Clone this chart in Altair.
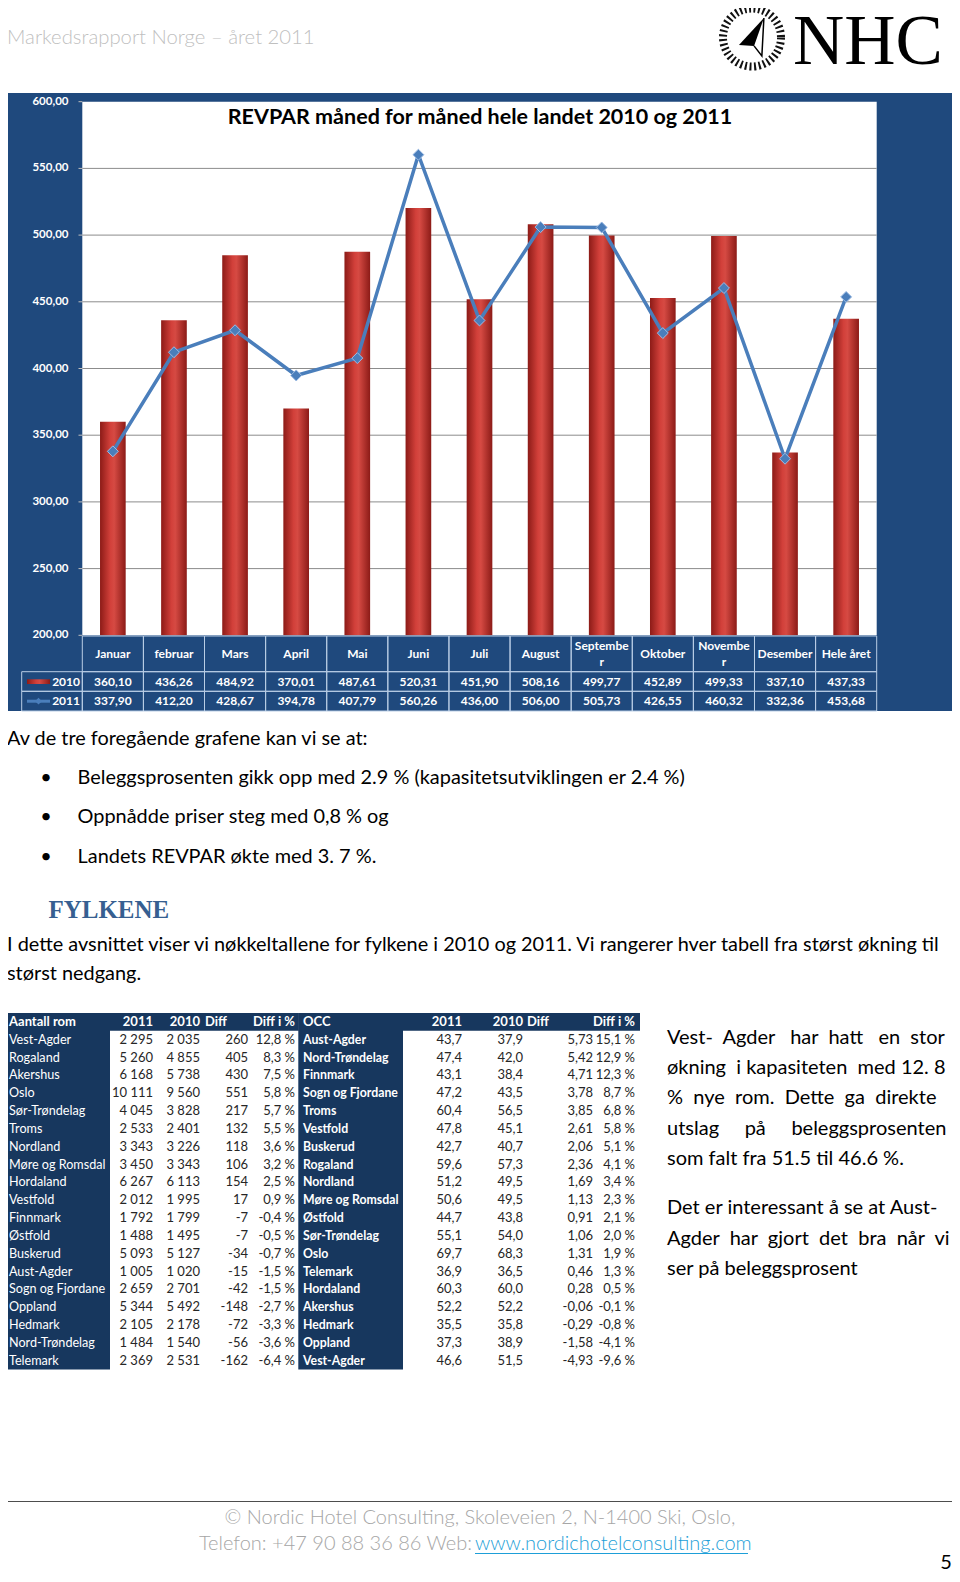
import altair as alt
import pandas as pd

# ---------------- data ----------------
months = ["Januar", "februar", "Mars", "April", "Mai", "Juni", "Juli", "August",
          "September", "Oktober", "November", "Desember", "Hele året"]
month_line1 = ["Januar", "februar", "Mars", "April", "Mai", "Juni", "Juli", "August",
               "Septembe", "Oktober", "Novembe", "Desember", "Hele året"]
month_line2 = ["", "", "", "", "", "", "", "", "r", "", "r", "", ""]
revpar_2010 = [360.10, 436.26, 484.92, 370.01, 487.61, 520.31, 451.90, 508.16,
               499.77, 452.89, 499.33, 337.10, 437.33]
revpar_2011 = [337.90, 412.20, 428.67, 394.78, 407.79, 560.26, 436.00, 506.00,
               505.73, 426.55, 460.32, 332.36, 453.68]
y_ticks = [200, 250, 300, 350, 400, 450, 500, 550, 600]

rooms_names = ["Vest-Agder", "Rogaland", "Akershus", "Oslo", "Sør-Trøndelag", "Troms",
               "Nordland", "Møre og Romsdal", "Hordaland", "Vestfold", "Finnmark",
               "Østfold", "Buskerud", "Aust-Agder", "Sogn og Fjordane", "Oppland",
               "Hedmark", "Nord-Trøndelag", "Telemark"]
rooms_2011 = [2295, 5260, 6168, 10111, 4045, 2533, 3343, 3450, 6267, 2012, 1792,
              1488, 5093, 1005, 2659, 5344, 2105, 1484, 2369]
rooms_2010 = [2035, 4855, 5738, 9560, 3828, 2401, 3226, 3343, 6113, 1995, 1799,
              1495, 5127, 1020, 2701, 5492, 2178, 1540, 2531]
rooms_diff = [260, 405, 430, 551, 217, 132, 118, 106, 154, 17, -7, -7, -34, -15,
              -42, -148, -72, -56, -162]
rooms_pct = [12.8, 8.3, 7.5, 5.8, 5.7, 5.5, 3.6, 3.2, 2.5, 0.9, -0.4, -0.5, -0.7,
             -1.5, -1.5, -2.7, -3.3, -3.6, -6.4]

occ_names = ["Aust-Agder", "Nord-Trøndelag", "Finnmark", "Sogn og Fjordane", "Troms",
             "Vestfold", "Buskerud", "Rogaland", "Nordland", "Møre og Romsdal",
             "Østfold", "Sør-Trøndelag", "Oslo", "Telemark", "Hordaland", "Akershus",
             "Hedmark", "Oppland", "Vest-Agder"]
occ_2011 = [43.7, 47.4, 43.1, 47.2, 60.4, 47.8, 42.7, 59.6, 51.2, 50.6, 44.7, 55.1,
            69.7, 36.9, 60.3, 52.2, 35.5, 37.3, 46.6]
occ_2010 = [37.9, 42.0, 38.4, 43.5, 56.5, 45.1, 40.7, 57.3, 49.5, 49.5, 43.8, 54.0,
            68.3, 36.5, 60.0, 52.2, 35.8, 38.9, 51.5]
occ_diff = [5.73, 5.42, 4.71, 3.78, 3.85, 2.61, 2.06, 2.36, 1.69, 1.13, 0.91, 1.06,
            1.31, 0.46, 0.28, -0.06, -0.29, -1.58, -4.93]
occ_pct = [15.1, 12.9, 12.3, 8.7, 6.8, 5.8, 5.1, 4.1, 3.4, 2.3, 2.1, 2.0, 1.9, 1.3,
           0.5, -0.1, -0.8, -4.1, -9.6]

header_text = "Markedsrapport Norge – året 2011"
chart_title = "REVPAR måned for måned hele landet 2010 og 2011"
intro_line = "Av de tre foregående grafene kan vi se at:"
bullets = ["Beleggsprosenten gikk opp med 2.9 % (kapasitetsutviklingen er 2.4 %)",
           "Oppnådde priser steg med 0,8 % og",
           "Landets REVPAR økte med 3. 7 %."]
section_title = "FYLKENE"
para_lines = ["I dette avsnittet viser vi nøkkeltallene for fylkene i 2010 og 2011. Vi rangerer hver tabell fra størst økning til",
              "størst nedgang."]
side_par1 = ["Vest-  Agder   har  hatt   en  stor",
             "økning  i kapasiteten  med 12. 8",
             "%  nye  rom.  Dette  ga  direkte",
             "utslag     på     beleggsprosenten",
             "som falt fra 51.5 til 46.6 %."]
side_par2 = ["Det er interessant å se at Aust-",
             "Agder  har  gjort  det  bra  når  vi",
             "ser på beleggsprosent"]
footer1 = "© Nordic Hotel Consulting, Skoleveien 2, N-1400 Ski, Oslo,"
footer2 = "Telefon: +47 90 88 36 86 Web: "
footer_link = "www.nordichotelconsulting.com"
page_no = "5"

# ---------------- layout ----------------
OFF = 8
W, H = 960 - 2 * OFF, 1582 - 2 * OFF
FONT = "Lato"
NAVY = "#17375E"
PANEL = "#1F497D"
LINE_BLUE = "#4A7EBB"


def X(v):
    return v - OFF


def Y(v):
    return v - OFF


def nb(s):
    return s.replace(" ", "\u00a0")


def fmt2(v):
    return f"{v:.2f}".replace(".", ",")


def fmt1(v):
    return f"{v:.1f}".replace(".", ",")


def thou(v):
    return f"{v:,}".replace(",", "\u00a0")


def pct(v):
    return fmt1(v) + "\u00a0%"


def one():
    return pd.DataFrame({"a": [0]})


def txt(s, x, y, size=17.5, color="#000000", align="left", weight="normal",
        font=FONT, baseline="middle"):
    return alt.Chart(pd.DataFrame({"t": [s]})).mark_text(
        align=align, baseline=baseline, fontSize=size, color=color,
        fontWeight=weight, font=font
    ).encode(x=alt.value(X(x)), y=alt.value(Y(y)), text="t:N")


def box(x0, x1, y0, y1, fill, **kw):
    return alt.Chart(one()).mark_rect(fill=fill, **kw).encode(
        x=alt.value(X(x0)), x2=alt.value(X(x1)), y=alt.value(Y(y0)), y2=alt.value(Y(y1)))


def hline(x0, x1, y, color, width=1):
    return alt.Chart(one()).mark_rule(color=color, strokeWidth=width).encode(
        x=alt.value(X(x0)), x2=alt.value(X(x1)), y=alt.value(Y(y)))


layers = []

# header
layers.append(txt(header_text, 7, 38, size=20.3, color="#BFBFBF", weight=300))

# logo
LOGO_CX, LOGO_CY, LOGO_R = 752, 37.5, 29
layers.append(alt.Chart(one()).mark_point(
    shape="circle", filled=False, size=(2 * LOGO_R) ** 2, strokeWidth=8,
    strokeDash=[2, 2.6], color="#111111", opacity=1
).encode(x=alt.value(X(LOGO_CX)), y=alt.value(Y(LOGO_CY))))
layers.append(alt.Chart(one()).mark_point(
    shape="M0.41,-0.67L-0.45,0.26L0.07,0.29Z", filled=True, size=(2 * LOGO_R) ** 2,
    color="#000000", opacity=1
).encode(x=alt.value(X(LOGO_CX)), y=alt.value(Y(LOGO_CY))))
layers.append(alt.Chart(one()).mark_point(
    shape="M0.07,0.29L0.34,0.64L0.41,-0.67", filled=False, size=(2 * LOGO_R) ** 2,
    color="#000000", strokeWidth=1.5, opacity=1
).encode(x=alt.value(X(LOGO_CX)), y=alt.value(Y(LOGO_CY))))
layers.append(txt("NHC", 793, 64, size=71, font="Liberation Serif", baseline="alphabetic"))

# chart panel
PL, PR, PT, PB = 82.3, 876.7, 101.7, 635.3
layers.append(box(6.7, 953, 93, 711, PANEL))
layers.append(box(PL, PR, PT, PB, "#FFFFFF"))

band_x = alt.Scale(type="band", domain=months, range=[X(PL), X(PR)],
                   paddingInner=0, paddingOuter=0)
point_x = alt.Scale(type="point", domain=months, range=[X(PL), X(PR)], padding=0.5)
rev_y = alt.Scale(domain=[200, 600], range=[Y(PB), Y(PT)], nice=False, zero=False)

df_ticks = pd.DataFrame({"v": y_ticks, "lab": [fmt2(v) for v in y_ticks]})
df_grid = df_ticks[(df_ticks.v > 200) & (df_ticks.v < 600)]
layers.append(alt.Chart(df_grid).mark_rule(color="#8C8C8C", strokeWidth=1).encode(
    x=alt.value(X(PL)), x2=alt.value(X(PR)),
    y=alt.Y("v:Q", scale=rev_y, axis=None)))
layers.append(alt.Chart(df_ticks).mark_rule(color="#BFBFBF", strokeWidth=1).encode(
    x=alt.value(X(78.5)), x2=alt.value(X(PL)),
    y=alt.Y("v:Q", scale=rev_y, axis=None)))
layers.append(alt.Chart(df_ticks).mark_text(
    align="right", baseline="middle", font=FONT, fontSize=11.5, fontWeight="bold",
    color="#FFFFFF").encode(
    x=alt.value(X(68.5)), y=alt.Y("v:Q", scale=rev_y, axis=None), text="lab:N"))

layers.append(txt(chart_title, 480, 118, size=21.5, weight="bold", align="center"))

df_rev = pd.DataFrame({
    "i": list(range(len(months))),
    "month": months,
    "line1": month_line1,
    "line2": month_line2,
    "v2010": revpar_2010,
    "v2011": revpar_2011,
    "l2010": [fmt2(v) for v in revpar_2010],
    "l2011": [fmt2(v) for v in revpar_2011],
})

red_grad = alt.LinearGradient(
    gradient="linear", x1=0, x2=1, y1=0, y2=0,
    stops=[alt.GradientStop(color="#8C1B17", offset=0),
           alt.GradientStop(color="#D2403A", offset=0.4),
           alt.GradientStop(color="#D64A43", offset=0.55),
           alt.GradientStop(color="#8C1B17", offset=1)])

layers.append(alt.Chart(df_rev).mark_bar(
    width=alt.RelativeBandSize(0.42), color=red_grad).encode(
    x=alt.X("month:N", scale=band_x, axis=None, sort=months),
    y=alt.Y("v2010:Q", scale=rev_y, axis=None),
    y2=alt.datum(200)))

layers.append(alt.Chart(df_rev).mark_line(color=LINE_BLUE, strokeWidth=3.5).encode(
    x=alt.X("month:N", scale=point_x, axis=None, sort=months),
    y=alt.Y("v2011:Q", scale=rev_y, axis=None),
    order=alt.Order("i:Q")))
layers.append(alt.Chart(df_rev).mark_point(
    shape="diamond", filled=True, size=120, color=LINE_BLUE, opacity=1,
    stroke="#9DBBE3", strokeWidth=1).encode(
    x=alt.X("month:N", scale=point_x, axis=None, sort=months),
    y=alt.Y("v2011:Q", scale=rev_y, axis=None)))

# data table under the chart
GRID = "#B9CDE5"
T_TOP, T_H1, T_H2, T_BOT = 636.0, 671.7, 691.3, 711.0
for (a, b) in [(T_TOP, T_H1), (T_H1, T_H2), (T_H2, T_BOT)]:
    layers.append(alt.Chart(df_rev).mark_rect(
        fillOpacity=0, stroke=GRID, strokeWidth=1).encode(
        x=alt.X("month:N", scale=band_x, axis=None, sort=months),
        y=alt.value(Y(a)), y2=alt.value(Y(b))))
for (a, b) in [(T_H1, T_H2), (T_H2, T_BOT)]:
    layers.append(box(21.7, PL, a, b, "none", stroke=GRID, strokeWidth=1, fillOpacity=0))

label_style = dict(align="center", baseline="middle", font=FONT, fontSize=12,
                   fontWeight="bold", color="#FFFFFF")
px_enc = alt.X("month:N", scale=point_x, axis=None, sort=months)
layers.append(alt.Chart(df_rev).transform_filter("datum.line2 == ''").mark_text(
    **label_style).encode(x=px_enc, y=alt.value(Y(654)), text="line1:N"))
layers.append(alt.Chart(df_rev).transform_filter("datum.line2 != ''").mark_text(
    **label_style).encode(x=px_enc, y=alt.value(Y(646)), text="line1:N"))
layers.append(alt.Chart(df_rev).transform_filter("datum.line2 != ''").mark_text(
    **label_style).encode(x=px_enc, y=alt.value(Y(662)), text="line2:N"))
for field, yy in [("l2010", 681.5), ("l2011", 701.2)]:
    layers.append(alt.Chart(df_rev).mark_text(**label_style).encode(
        x=px_enc, y=alt.value(Y(yy)), text=f"{field}:N"))

layers.append(txt("2010", 80, 681.5, size=12, weight="bold", color="#FFFFFF", align="right"))
layers.append(txt("2011", 80, 701.2, size=12, weight="bold", color="#FFFFFF", align="right"))
layers.append(box(27, 50, 679.3, 684.0, red_grad))
layers.append(hline(27, 50, 701.2, LINE_BLUE, 3))
layers.append(alt.Chart(one()).mark_point(
    shape="diamond", filled=True, size=45, color=LINE_BLUE, opacity=1).encode(
    x=alt.value(X(38.5)), y=alt.value(Y(701.2))))

# text block
BODY = 19.9
layers.append(txt(intro_line, 7, 739, size=BODY))
for k, (s, yy) in enumerate(zip(bullets, [777.5, 817, 857])):
    layers.append(txt("•", 40.3, yy, size=BODY))
    layers.append(txt(s, 77.6, yy, size=BODY))
layers.append(txt(section_title, 48.4, 910, size=25, weight="bold",
                  font="Liberation Serif", color="#365F91"))
for s, yy in zip(para_lines, [945, 974]):
    layers.append(txt(s, 7, yy, size=BODY))

# tables
TBL_TOP, TBL_BOT = 1013.0, 1369.6
row_scale = alt.Scale(domain=[-0.5, 19.5], range=[Y(TBL_TOP), Y(TBL_BOT)], nice=False,
                      zero=False)
TSIZE = 13
NUM_COLOR = "#262626"

df_left = pd.DataFrame({
    "row": list(range(1, 20)),
    "name": rooms_names,
    "c1": [thou(v) for v in rooms_2011],
    "c2": [thou(v) for v in rooms_2010],
    "c3": [str(v) for v in rooms_diff],
    "c4": [pct(v) for v in rooms_pct],
})
df_right = pd.DataFrame({
    "row": list(range(1, 20)),
    "name": occ_names,
    "c1": [fmt1(v) for v in occ_2011],
    "c2": [fmt1(v) for v in occ_2010],
    "c3": [fmt2(v) for v in occ_diff],
    "c4": [pct(v) for v in occ_pct],
})
df_span = pd.DataFrame({"lo": [-0.5], "hi": [19.5], "hlo": [-0.5], "hhi": [0.5]})


def span_rect(x0, x1, lo, hi):
    return alt.Chart(df_span).mark_rect(fill=NAVY).encode(
        x=alt.value(X(x0)), x2=alt.value(X(x1)),
        y=alt.Y(f"{lo}:Q", scale=row_scale, axis=None), y2=f"{hi}:Q")


layers.append(span_rect(6.7, 298.3, "hlo", "hhi"))
layers.append(span_rect(6.7, 110, "lo", "hi"))
layers.append(span_rect(298.3, 640, "hlo", "hhi"))
layers.append(span_rect(298.3, 403, "lo", "hi"))


def col(df, field, xpos, align, color, weight, size=TSIZE):
    return alt.Chart(df).mark_text(
        align=align, baseline="middle", font=FONT, fontSize=size, fontWeight=weight,
        color=color).encode(
        x=alt.value(X(xpos)), y=alt.Y("row:Q", scale=row_scale, axis=None),
        text=f"{field}:N")


df_lh = pd.DataFrame({"row": [0], "name": ["Aantall rom"], "c1": ["2011"],
                      "c2": ["2010"], "c3": ["Diff"], "c4": ["Diff i %"]})
df_rh = pd.DataFrame({"row": [0], "name": ["OCC"], "c1": ["2011"],
                      "c2": ["2010"], "c3": ["Diff"], "c4": ["Diff i %"]})

# left table
layers.append(col(df_left, "name", 9, "left", "#FFFFFF", "normal", 12.6))
layers.append(col(df_left, "c1", 153, "right", NUM_COLOR, "normal"))
layers.append(col(df_left, "c2", 200, "right", NUM_COLOR, "normal"))
layers.append(col(df_left, "c3", 248, "right", NUM_COLOR, "normal"))
layers.append(col(df_left, "c4", 295, "right", NUM_COLOR, "normal"))
layers.append(col(df_lh, "name", 9, "left", "#FFFFFF", "bold"))
layers.append(col(df_lh, "c1", 153, "right", "#FFFFFF", "bold"))
layers.append(col(df_lh, "c2", 200, "right", "#FFFFFF", "bold"))
layers.append(col(df_lh, "c3", 205, "left", "#FFFFFF", "bold"))
layers.append(col(df_lh, "c4", 295, "right", "#FFFFFF", "bold"))
# right table
layers.append(col(df_right, "name", 303, "left", "#FFFFFF", "bold", 12.3))
layers.append(col(df_right, "c1", 462, "right", NUM_COLOR, "normal"))
layers.append(col(df_right, "c2", 523, "right", NUM_COLOR, "normal"))
layers.append(col(df_right, "c3", 593, "right", NUM_COLOR, "normal"))
layers.append(col(df_right, "c4", 635, "right", NUM_COLOR, "normal"))
layers.append(col(df_rh, "name", 303, "left", "#FFFFFF", "bold"))
layers.append(col(df_rh, "c1", 462, "right", "#FFFFFF", "bold"))
layers.append(col(df_rh, "c2", 523, "right", "#FFFFFF", "bold"))
layers.append(col(df_rh, "c3", 527, "left", "#FFFFFF", "bold"))
layers.append(col(df_rh, "c4", 635, "right", "#FFFFFF", "bold"))

# side text
SIDE = 20
for k, s in enumerate(side_par1):
    layers.append(txt(nb(s), 667, 1038 + k * 30.2, size=SIDE))
for k, s in enumerate(side_par2):
    layers.append(txt(nb(s), 667, 1208 + k * 30.6, size=SIDE))

# footer
layers.append(hline(3, 956, 1501.5, "#4D4D4D", 1))
layers.append(txt(footer1, 480, 1518, size=20, color="#A6A6A6", weight=300, align="center"))
layers.append(txt(footer2, 472, 1544, size=20, color="#A6A6A6", weight=300, align="right"))
layers.append(txt(footer_link, 475, 1544, size=20, color="#1E9FD8", weight=300))
layers.append(hline(475, 748, 1553.5, "#1E9FD8", 1))
layers.append(txt(page_no, 946, 1563, size=20, align="center"))

chart = alt.layer(*layers).resolve_scale(
    x="independent", y="independent"
).properties(
    width=W, height=H, autosize=alt.AutoSizeParams(type="none"), padding=0,
    background="#FFFFFF"
).configure_view(strokeWidth=0)

chart.save("out.html", embed_options={"renderer": "svg", "actions": False})
